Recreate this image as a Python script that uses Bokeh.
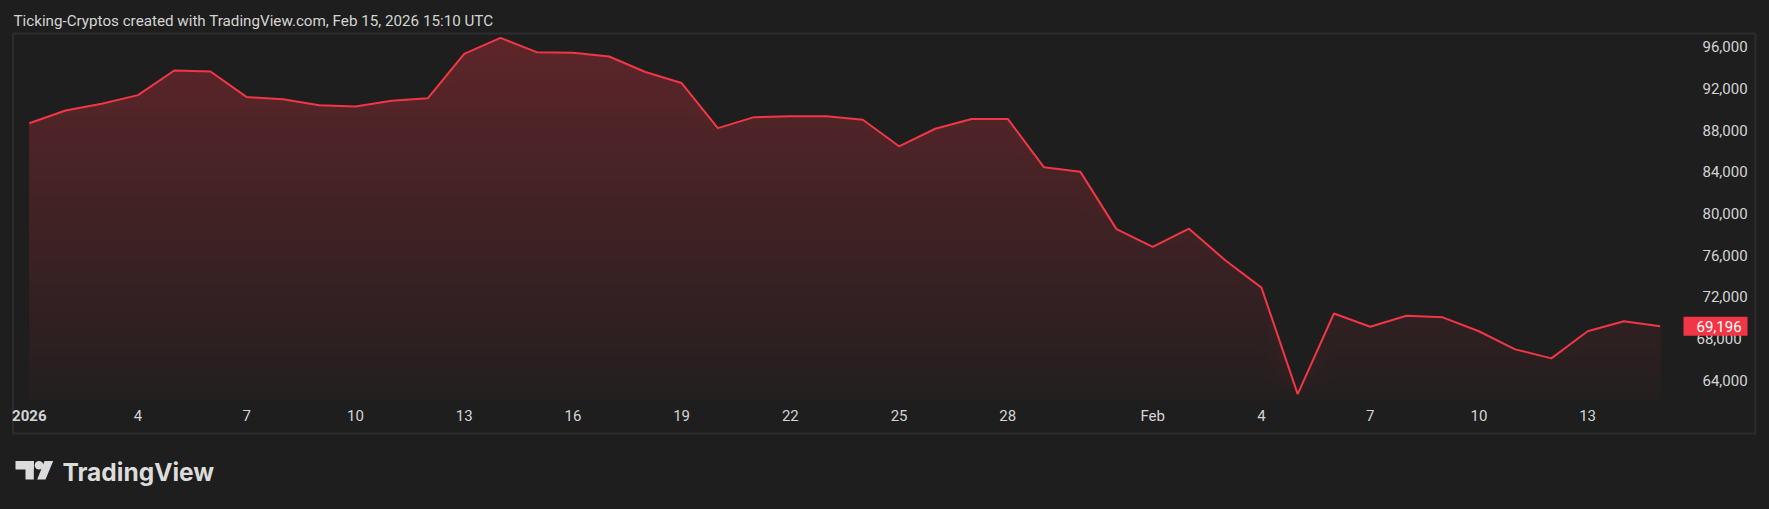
import numpy as np
from bokeh.plotting import figure
from bokeh.models import Range1d, FixedTicker, NumeralTickFormatter
from bokeh.core.properties import value
from bokeh.embed import file_html
from bokeh.resources import INLINE

# ---------------- data ----------------
day = list(range(1, 47))  # Jan 1 .. Feb 15, 2026 (daily)
close = [88650, 89870, 90510, 91340, 93700, 93600, 91150, 90950, 90380, 90250,
         90800, 91050, 95300, 96830, 95460, 95400, 95040, 93560, 92500, 88180,
         89230, 89320, 89320, 88980, 86440, 88120, 89060, 89060, 84420, 84010,
         78500, 76800, 78550, 75520, 72900, 62700, 70420, 69150, 70200, 70050,
         68720, 66980, 66120, 68720, 69680, 69196]
last_price = 69196
tick_days = [1, 4, 7, 10, 13, 16, 19, 22, 25, 28, 32, 35, 38, 41, 44]
tick_labels = ["2026", "4", "7", "10", "13", "16", "19", "22", "25", "28",
               "Feb", "4", "7", "10", "13"]
price_ticks = [64000, 68000, 72000, 76000, 80000, 84000, 88000, 92000, 96000]
title_text = "Ticking-Cryptos created with TradingView.com, Feb 15, 2026 15:10 UTC"

# ---------------- style ----------------
BG = "#1e1e1e"
LINE = "#f23645"
TXT = "#d4d4d4"
BORDER = "#2c2c2c"
LOGO = "#dcdcdc"
FONT = "Roboto"
W, H = 1769, 509

# the frame covers the whole canvas; scales chosen so the pane sits where it should
x0, x1 = 0.2053, 49.0188
y_lo, y_hi = 51640.7, 100407.2

p = figure(width=W, height=H, output_backend="svg", toolbar_location=None,
           x_range=Range1d(x0, x1), y_range=Range1d(y_lo, y_hi),
           y_axis_location="right", background_fill_color=BG, border_fill_color=BG,
           min_border=0)
p.title.visible = False
p.outline_line_color = None
p.grid.visible = False

def px_x(px):
    return x0 + px / W * (x1 - x0)

def px_y(py):
    return y_hi - py / H * (y_hi - y_lo)

def dpx_y(n):
    return n / H * (y_hi - y_lo)

# outer border box around pane and scales
p.quad(left=[px_x(12.5)], right=[px_x(1755)], top=[px_y(33)], bottom=[px_y(433)],
       fill_color=None, line_color=BORDER, line_width=2)

# gradient area under the line (stacked opaque bands, top colour first)
def blend(a):
    r1, g1, b1 = 0xf2, 0x36, 0x45
    r0, g0, b0 = 0x1e, 0x1e, 0x1e
    return "#%02x%02x%02x" % (round(r0 + (r1 - r0) * a), round(g0 + (g1 - g0) * a),
                              round(b0 + (b1 - b0) * a))

pane_bot, pane_top = px_y(400), px_y(34)
N = 50
levels = np.linspace(pane_bot, pane_top, N + 1)
vals = np.array(close, dtype=float)
for k in reversed(range(N)):
    t = (k + 0.5) / N
    a = 0.025 + (0.30 - 0.025) * t
    p.varea(x=day, y1=pane_bot, y2=np.minimum(vals, levels[k + 1]), fill_color=blend(a))

p.line(day, close, line_color=LINE, line_width=2)

# time scale (real axis, fixed inside the canvas)
xa = p.xaxis[0]
xa.fixed_location = px_y(394)
xa.ticker = FixedTicker(ticks=tick_days)
xa.major_label_overrides = {d: ("" if l == "2026" else l) for d, l in zip(tick_days, tick_labels)}
xa.major_label_standoff = 6

# price scale (real axis); ticks hidden by the last-price tag are drawn underneath it
ya = p.yaxis[0]
ya.fixed_location = px_x(1682)
ya.ticker = FixedTicker(ticks=[t for t in price_ticks if abs(t - last_price) > 1500])
ya.formatter = NumeralTickFormatter(format="0,0")
ya.major_label_standoff = 14
for ax in (xa, ya):
    ax.axis_line_color = None
    ax.major_tick_line_color = None
    ax.minor_tick_line_color = None
    ax.major_label_text_color = TXT
    ax.major_label_text_font = FONT
    ax.major_label_text_font_size = "15px"

hidden = [t for t in price_ticks if abs(t - last_price) <= 1500]
p.text(x=[px_x(1696)] * len(hidden), y=hidden, text=["{:,}".format(t) for t in hidden],
       text_baseline="middle", text_align="left", text_font=value(FONT),
       text_font_size="15px", text_color=TXT)

# last price tag
p.quad(left=[px_x(1683)], right=[px_x(1747)], top=[last_price + dpx_y(9.5)],
       bottom=[last_price - dpx_y(9.5)], fill_color=LINE, line_color=None)
p.text(x=[px_x(1696)], y=[last_price], text=["{:,}".format(last_price)],
       text_baseline="middle", text_align="left", text_font=value(FONT),
       text_font_size="15px", text_color="#ffffff")

# "2026" in bold at its tick
p.text(x=[tick_days[0]], y=[px_y(415)], text=[tick_labels[0]], text_align="center",
       text_baseline="middle", text_font=value(FONT), text_font_style="bold",
       text_font_size="15px", text_color=TXT)

# header
p.text(x=[px_x(13)], y=[px_y(20)], text=[title_text], text_baseline="middle",
       text_align="left", text_font=value(FONT), text_font_size="15.2px", text_color=TXT)

# TradingView logo
p.quad(left=[px_x(15), px_x(25)], right=[px_x(33.3), px_x(33.3)],
       top=[px_y(460.5), px_y(460.5)], bottom=[px_y(469), px_y(479)],
       fill_color=LOGO, line_color=None)
p.scatter(x=[px_x(38.5)], y=[px_y(464.7)], size=8.6, marker="circle",
          fill_color=LOGO, line_color=None)
p.patch(x=[px_x(v) for v in (44, 52.7, 45, 36.7)], y=[px_y(v) for v in (460.5, 460.5, 479, 479)],
        fill_color=LOGO, line_color=None)
p.text(x=[px_x(62)], y=[px_y(471.5)], text=["TradingView"], text_baseline="alphabetic",
       text_align="left", text_font=value("Inter"), text_font_style="bold",
       text_font_size="24.5px", text_color=LOGO)

html = file_html(p, INLINE)
html = html.replace("<body>", '<body style="background:#1e1e1e;">')
open("out.html", "w").write(html)
